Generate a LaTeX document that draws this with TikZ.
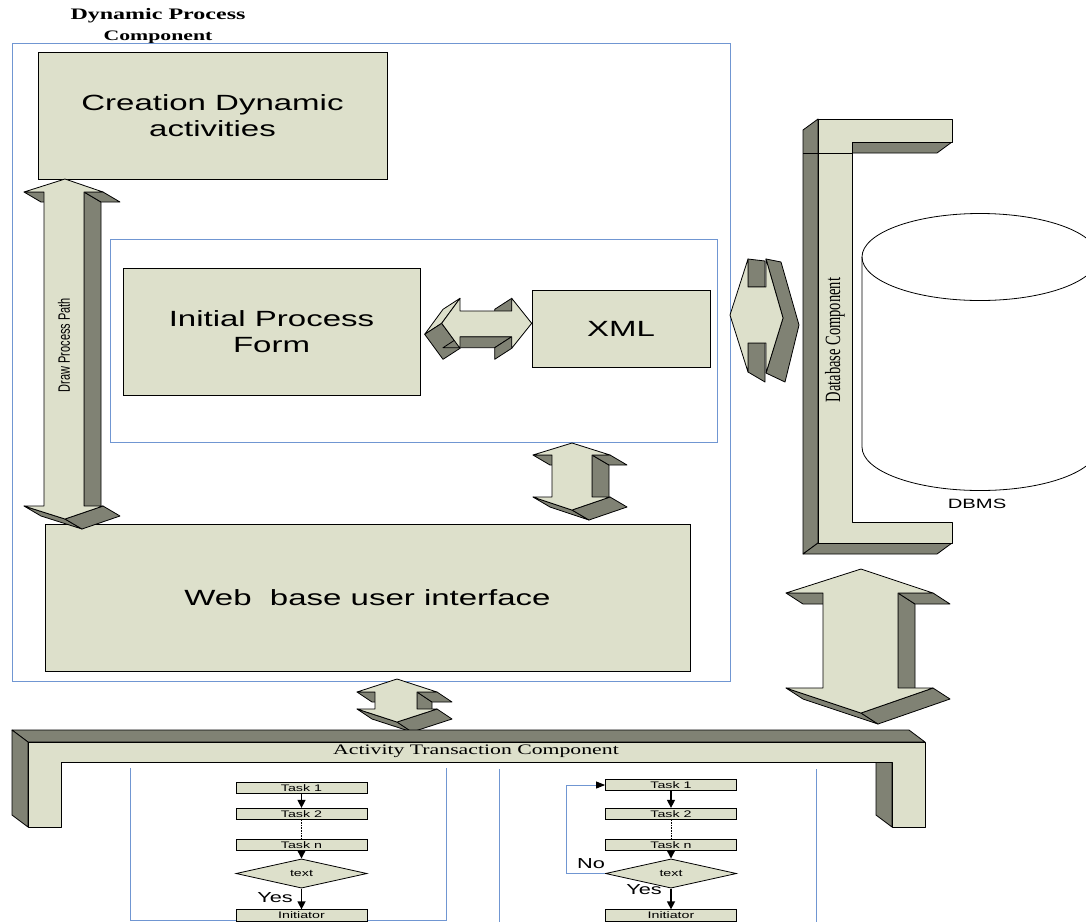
\documentclass[tikz,border=0pt]{standalone}
\usepackage{fontspec}
\setmainfont{Liberation Serif}
\newfontfamily\arialw[FakeStretch=1.5]{Liberation Sans}
\newfontfamily\timesw[FakeStretch=1.5]{Liberation Serif}
\newfontfamily\arialn{Liberation Sans}
\newfontfamily\timesn{Liberation Serif}
\usetikzlibrary{shapes.geometric,arrows.meta}
\definecolor{lite}{HTML}{DDE0CB}
\definecolor{drk}{HTML}{808274}
\definecolor{frame}{HTML}{7096D2}
\tikzset{
  lightface/.style={fill=lite,draw=black,line width=0.8pt,line join=round},
  darkface/.style={fill=drk,draw=black,line width=0.8pt,line join=round},
  blueframe/.style={draw=frame,line width=0.9pt},
  bigbox/.style={fill=lite,draw=black,line width=0.8pt,inner sep=0pt,align=center,font=\arialw\fontsize{22}{26}\selectfont},
  task/.style={fill=lite,draw=black,line width=0.8pt,minimum width=131pt,minimum height=11.5pt,inner sep=0pt,font=\arialw\fontsize{9.5}{10}\selectfont},
  decision/.style={diamond,fill=lite,draw=black,line width=0.8pt,minimum width=131pt,minimum height=21pt,inner sep=0pt,font=\arialw\fontsize{9.5}{10}\selectfont},
  flowarrow/.style={line width=1.4pt,-{Triangle[width=8pt,length=8pt]}},
  lbl/.style={inner sep=0pt,font=\arialw\fontsize{14.5}{16}\selectfont},
}
% vertical 3D double arrow: tipx, top tip y, top wing y, left corner x, shaft left x, shaft right x, right corner x, bottom wing y, bottom tip y
\newcommand\vdarrow[9]{%
  \filldraw[darkface] (#4,#3) -- (#5,#3) -- (#5+\arrdx,#3+\arrdy) -- (#4+\arrdx,#3+\arrdy) -- cycle;
  \filldraw[darkface] (#6,#3) -- (#6,#8) -- (#6+\arrdx,#8+\arrdy) -- (#6+\arrdx,#3+\arrdy) -- cycle;
  \filldraw[darkface] (#6,#3) -- (#7,#3) -- (#7+\arrdx,#3+\arrdy) -- (#6+\arrdx,#3+\arrdy) -- cycle;
  \filldraw[darkface] (#4,#8) -- (#1,#9) -- (#1+\arrdx,#9+\arrdy) -- (#4+\arrdx,#8+\arrdy) -- cycle;
  \filldraw[darkface] (#1,#9) -- (#7,#8) -- (#7+\arrdx,#8+\arrdy) -- (#1+\arrdx,#9+\arrdy) -- cycle;
  \filldraw[lightface] (#1,#2) -- (#7,#3) -- (#6,#3) -- (#6,#8) -- (#7,#8) -- (#1,#9) -- (#4,#8) -- (#5,#8) -- (#5,#3) -- (#4,#3) -- cycle;
}
\begin{document}
\begin{tikzpicture}[x=1pt,y=-1pt]
\useasboundingbox (0,0) rectangle (1086,922);
\fill[white] (0,0) rectangle (1086,922);

% titles
\node[inner sep=0pt,font=\timesw\bfseries\fontsize{16}{18}\selectfont] (title1) at (158,16) {Dynamic Process};
\node[inner sep=0pt,font=\timesw\bfseries\fontsize{14.5}{16}\selectfont] (title2) at (158,37) {Component};

% frames
\draw[blueframe] (12,43) rectangle (730,681);
\draw[blueframe] (110,239) rectangle (717,442);

% boxes
\node[bigbox,minimum width=349pt,minimum height=127pt] (creation) at (212.5,115.5) {Creation Dynamic\\activities};
\node[bigbox,minimum width=297pt,minimum height=127pt] (initial) at (271.5,331.5) {Initial Process\\Form};
\node[bigbox,minimum width=178pt,minimum height=77pt] (xml) at (621,328.5) {XML};
\node[bigbox,minimum width=645pt,minimum height=147pt] (web) at (367.5,597.5) {Web~ base user interface};

% vertical 3D arrows
\def\arrdx{17}\def\arrdy{10}
\vdarrow{65}{179}{192}{24}{44}{84}{103}{506}{519}
\node[rotate=90,inner sep=0pt] (dpp) at (64,345) {\scalebox{1}[1.5]{\arialn\fontsize{11}{13}\selectfont Draw Process Path}};
\vdarrow{572}{443}{455}{533}{552}{592}{610}{497}{510}
\def\arrdx{15}\def\arrdy{10}
\vdarrow{397}{679}{692}{357}{375}{417}{437}{709}{722}
\def\arrdx{17}\def\arrdy{11}
\vdarrow{861}{569}{593}{786}{823}{898}{933}{688}{713}

% horizontal 3D arrow between Initial Process Form and XML
\filldraw[lightface] (441.7,323.3) -- (460,298.3) -- (443,309.3) -- (424.7,334.3) -- cycle;
\filldraw[darkface] (441.7,323.3) -- (460,348.3) -- (443,359.3) -- (424.7,334.3) -- cycle;
\filldraw[darkface] (460,336.7) -- (511.7,336.7) -- (494.7,347.7) -- (443,347.7) -- cycle;
\filldraw[darkface] (511.7,298.3) -- (511.7,311) -- (494.7,322) -- (494.7,309.3) -- cycle;
\filldraw[darkface] (511.7,336.7) -- (511.7,348.3) -- (494.7,359.3) -- (494.7,347.7) -- cycle;
\filldraw[lightface] (441.7,323.3) -- (460,298.3) -- (460,311) -- (511.7,311) -- (511.7,298.3) -- (531.7,323.3) -- (511.7,348.3) -- (511.7,336.7) -- (460,336.7) -- (460,348.3) -- cycle;

% hexagonal 3D arrow towards the database
\filldraw[darkface] (748,259) -- (765,261) -- (765,287) -- (748,287) -- cycle;
\filldraw[darkface] (748,343) -- (765,343) -- (765,382) -- (748,372) -- cycle;
\filldraw[darkface] (766,259) -- (781,262) -- (799,325) -- (785,382) -- (766,373) -- (783,318) -- cycle;
\filldraw[lightface] (730,315) -- (748,259) -- (748,287) -- (766,287) -- (766,259) -- (783,318) -- (766,373) -- (766,343) -- (748,343) -- (748,372) -- cycle;

% database bracket
\filldraw[darkface] (818,119) -- (818,543) -- (803,554) -- (803,130) -- cycle;
\filldraw[darkface] (818,543) -- (952,543) -- (937,554) -- (803,554) -- cycle;
\filldraw[darkface] (837,142) -- (952,142) -- (937,153) -- (837,153) -- cycle;
\filldraw[lightface] (818,119) -- (952,119) -- (952,142) -- (852,142) -- (852,522) -- (952,522) -- (952,543) -- (818,543) -- cycle;
\draw[line width=0.8pt] (803,153) -- (852,153);
\node[rotate=90,inner sep=0pt] (dbc) at (835,340) {\scalebox{1}[1.5]{\timesn\fontsize{14.5}{16}\selectfont Database Component}};

% DBMS cylinder
\begin{scope}
\clip (0,0) rectangle (1086,922);
\draw[line width=0.8pt] (980,257) ellipse [x radius=118pt, y radius=43.5pt];
\draw[line width=0.8pt] (862,257) -- (862,447) arc[start angle=180,end angle=360,x radius=118pt,y radius=43.5pt] -- (1098,257);
\end{scope}
\node[inner sep=0pt,font=\arialw\fontsize{13.5}{15}\selectfont] (dbms) at (977,504) {DBMS};

% activity transaction bracket
\filldraw[darkface] (28,742) -- (925,742) -- (909,730) -- (12,730) -- cycle;
\filldraw[darkface] (28,742) -- (28,827) -- (12,815) -- (12,730) -- cycle;
\filldraw[darkface] (892,762) -- (892,827) -- (876,815) -- (876,750) -- cycle;
\filldraw[lightface] (28,742) -- (925,742) -- (925,827) -- (892,827) -- (892,762) -- (61,762) -- (61,827) -- (28,827) -- cycle;
\node[inner sep=0pt,font=\timesw\fontsize{14.5}{16}\selectfont] (atc) at (476,751) {Activity Transaction Component};

% panels
\draw[blueframe] (130,768) -- (130,920) -- (446,920) -- (446,768);
\draw[blueframe] (499,769) -- (499,922);
\draw[blueframe] (816,769) -- (816,922);

% left flowchart
\node[task] (lt1) at (301.5,788) {Task 1};
\node[task] (lt2) at (301.5,814) {Task 2};
\node[task] (ltn) at (301.5,845) {Task n};
\node[decision] (ldec) at (301.5,873.5) {text};
\node[task] (linit) at (301.5,915.5) {Initiator};
\draw[flowarrow] (lt1.south) -- (lt2.north);
\draw[line width=0.6pt,densely dotted] (lt2.south) -- (ltn.north);
\draw[flowarrow] (ltn.south) -- (ldec.north);
\draw[flowarrow] (ldec.south) -- (linit.north);
\node[lbl] (lyes) at (275,898) {Yes};

% right flowchart
\node[task] (rt1) at (671,785) {Task 1};
\node[task] (rt2) at (671,814) {Task 2};
\node[task] (rtn) at (671,845) {Task n};
\node[decision] (rdec) at (671,873.5) {text};
\node[task] (rinit) at (671,915.5) {Initiator};
\draw[flowarrow] (rt1.south) -- (rt2.north);
\draw[line width=0.6pt,densely dotted] (rt2.south) -- (rtn.north);
\draw[flowarrow] (rtn.south) -- (rdec.north);
\draw[flowarrow] (rdec.south) -- (rinit.north);
\coordinate (loopA) at (566,873.5);
\coordinate (loopB) at (566,785);
\draw[draw=frame,line width=0.9pt,-{Triangle[width=7pt,length=9pt,color=black]}] (rdec.west) -- (loopA) -- (loopB) -- (rt1.west);
\node[lbl] (rno) at (591,864) {No};
\node[lbl] (ryes) at (644,890) {Yes};
\end{tikzpicture}
\end{document}
